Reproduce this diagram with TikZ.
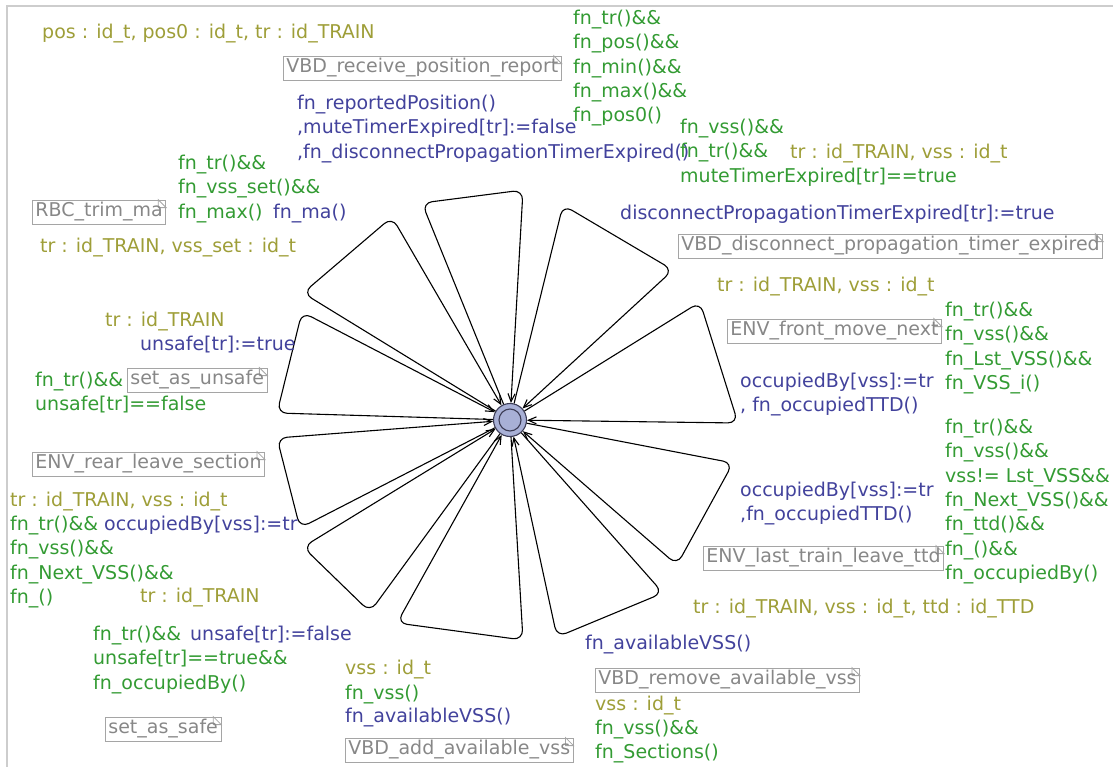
\documentclass[tikz,border=0pt]{standalone}
\usepackage{fontspec}
\setmainfont{DejaVu Sans}
\usetikzlibrary{arrows.meta}
\definecolor{selcol}{RGB}{158,158,56}
\definecolor{grdcol}{RGB}{51,155,51}
\definecolor{updcol}{RGB}{66,66,156}
\definecolor{cmtcol}{RGB}{135,135,135}
\definecolor{cmtline}{RGB}{165,165,165}
\definecolor{locfill}{RGB}{168,176,214}
\definecolor{locline}{RGB}{60,60,85}
\definecolor{framecol}{RGB}{205,205,205}
\begin{document}
\begin{tikzpicture}[x=1pt,y=-1pt,
 every node/.style={font=\fontsize{19}{24.3}\selectfont},
 txt/.style={inner sep=0pt,anchor=north west,align=left},
 sel/.style={txt,text=selcol},
 grd/.style={txt,text=grdcol},
 upd/.style={txt,text=updcol},
 cmt/.style={draw=cmtline,text=cmtcol,line width=0.8pt,inner xsep=3pt,inner ysep=2.5pt,anchor=west,
  append after command={\pgfextra{
   \fill[white] ([xshift=-8pt]\tikzlastnode.north east) -- ([xshift=1pt,yshift=1pt]\tikzlastnode.north east) -- ([yshift=-8pt]\tikzlastnode.north east) -- cycle;
   \draw[cmtline,line width=0.8pt] ([xshift=-8pt]\tikzlastnode.north east) -- ([yshift=-8pt]\tikzlastnode.north east) -- ([xshift=-8pt,yshift=-8pt]\tikzlastnode.north east) -- cycle;}}},
 loc/.style={circle,draw=locline,fill=locfill,line width=1.1pt,inner sep=0pt},
 edge/.style={draw=black,line width=1.1pt,rounded corners=10pt,-{Straight Barb[length=8pt,width=7pt]}}]
 \useasboundingbox (0,0) rectangle (1113,767);
 \draw[framecol,line width=1.2pt] (7,767) -- (7,6) -- (1113,6);
 \node[loc,minimum size=33pt] (init) at (510,420) {};
 \node[loc,fill=none,minimum size=22pt] (initin) at (init) {};
 \coordinate (nA1) at (303,293); \coordinate (nA2) at (392,217);
 \coordinate (nB1) at (422,203); \coordinate (nB2) at (523,190);
 \coordinate (nC1) at (563,205); \coordinate (nC2) at (673,270);
 \coordinate (nD1) at (700,302); \coordinate (nD2) at (738,423);
 \coordinate (nE1) at (733,463); \coordinate (nE2) at (677,565);
 \coordinate (nF1) at (663,593); \coordinate (nF2) at (557,637);
 \coordinate (nG1) at (523,640); \coordinate (nG2) at (397,623);
 \coordinate (nH1) at (370,612); \coordinate (nH2) at (303,547);
 \coordinate (nI1) at (300,528); \coordinate (nI2) at (277,438);
 \coordinate (nJ1) at (277,413); \coordinate (nJ2) at (302,312);
 \draw[edge] (init) -- (nA1) -- (nA2) -- (init);
 \draw[edge] (init) -- (nB1) -- (nB2) -- (init);
 \draw[edge] (init) -- (nC1) -- (nC2) -- (init);
 \draw[edge] (init) -- (nD1) -- (nD2) -- (init);
 \draw[edge] (init) -- (nE1) -- (nE2) -- (init);
 \draw[edge] (init) -- (nF1) -- (nF2) -- (init);
 \draw[edge] (init) -- (nG1) -- (nG2) -- (init);
 \draw[edge] (init) -- (nH1) -- (nH2) -- (init);
 \draw[edge] (init) -- (nI1) -- (nI2) -- (init);
 \draw[edge] (init) -- (nJ1) -- (nJ2) -- (init);
 \node[sel] (selglob) at (42,24) {pos : id\_t, pos0 : id\_t, tr : id\_TRAIN};
 \node[cmt] (cmtA) at (32,212) {RBC\_trim\_ma};
 \node[grd] (grdA) at (178,155) {fn\_tr()\&\&\\fn\_vss\_set()\&\&\\fn\_max()};
 \node[upd] (updA) at (273,204) {fn\_ma()};
 \node[sel] (selA) at (40,238) {tr : id\_TRAIN, vss\_set : id\_t};
 \node[cmt] (cmtB) at (283,68) {VBD\_receive\_position\_report};
 \node[grd] (grdB) at (573,10) {fn\_tr()\&\&\\fn\_pos()\&\&\\fn\_min()\&\&\\fn\_max()\&\&\\fn\_pos0()};
 \node[upd] (updB) at (297,95) {fn\_reportedPosition()\\,muteTimerExpired[tr]:=false\\,fn\_disconnectPropagationTimerExpired()};
 \node[grd] (grdC) at (680,119) {fn\_vss()\&\&\\fn\_tr()\&\&\\muteTimerExpired[tr]==true};
 \node[sel] (selC) at (790,144) {tr : id\_TRAIN, vss : id\_t};
 \node[upd] (updC) at (620,205) {disconnectPropagationTimerExpired[tr]:=true};
 \node[cmt] (cmtC) at (678,246) {VBD\_disconnect\_propagation\_timer\_expired};
 \node[sel] (selD) at (717,277) {tr : id\_TRAIN, vss : id\_t};
 \node[cmt] (cmtD) at (727,331) {ENV\_front\_move\_next};
 \node[grd] (grdD) at (945,302) {fn\_tr()\&\&\\fn\_vss()\&\&\\fn\_Lst\_VSS()\&\&\\fn\_VSS\_i()};
 \node[upd] (updD) at (740,373) {occupiedBy[vss]:=tr\\, fn\_occupiedTTD()};
 \node[grd] (grdE) at (945,419) {fn\_tr()\&\&\\fn\_vss()\&\&\\vss!= Lst\_VSS\&\&\\fn\_Next\_VSS()\&\&\\fn\_ttd()\&\&\\fn\_()\&\&\\fn\_occupiedBy()};
 \node[upd] (updE) at (740,482) {occupiedBy[vss]:=tr\\,fn\_occupiedTTD()};
 \node[cmt] (cmtE) at (703,558) {ENV\_last\_train\_leave\_ttd};
 \node[sel] (selE) at (693,599) {tr : id\_TRAIN, vss : id\_t, ttd : id\_TTD};
 \node[upd] (updF) at (585,635) {fn\_availableVSS()};
 \node[cmt] (cmtF) at (595,680) {VBD\_remove\_available\_vss};
 \node[sel] (selF) at (595,696) {vss : id\_t};
 \node[grd] (grdF) at (595,720) {fn\_vss()\&\&\\fn\_Sections()};
 \node[sel] (selG) at (345,660) {vss : id\_t};
 \node[grd] (grdG) at (345,685) {fn\_vss()};
 \node[upd] (updG) at (345,708) {fn\_availableVSS()};
 \node[cmt] (cmtG) at (345,750) {VBD\_add\_available\_vss};
 \node[sel] (selH) at (140,588) {tr : id\_TRAIN};
 \node[grd] (grdH) at (93,626) {fn\_tr()\&\&\\unsafe[tr]==true\&\&\\fn\_occupiedBy()};
 \node[upd] (updH) at (190,626) {unsafe[tr]:=false};
 \node[cmt] (cmtH) at (105,729) {set\_as\_safe};
 \node[cmt] (cmtI) at (32,464) {ENV\_rear\_leave\_section};
 \node[sel] (selI) at (10,492) {tr : id\_TRAIN, vss : id\_t};
 \node[grd] (grdI) at (10,516) {fn\_tr()\&\&\\fn\_vss()\&\&\\fn\_Next\_VSS()\&\&\\fn\_()};
 \node[upd] (updI) at (104,516) {occupiedBy[vss]:=tr};
 \node[sel] (selJ) at (105,312) {tr : id\_TRAIN};
 \node[upd] (updJ) at (140,336) {unsafe[tr]:=true};
 \node[grd] (grdJ) at (35,372) {fn\_tr()\&\&\\unsafe[tr]==false};
 \node[cmt] (cmtJ) at (127,380) {set\_as\_unsafe};
\end{tikzpicture}
\end{document}
